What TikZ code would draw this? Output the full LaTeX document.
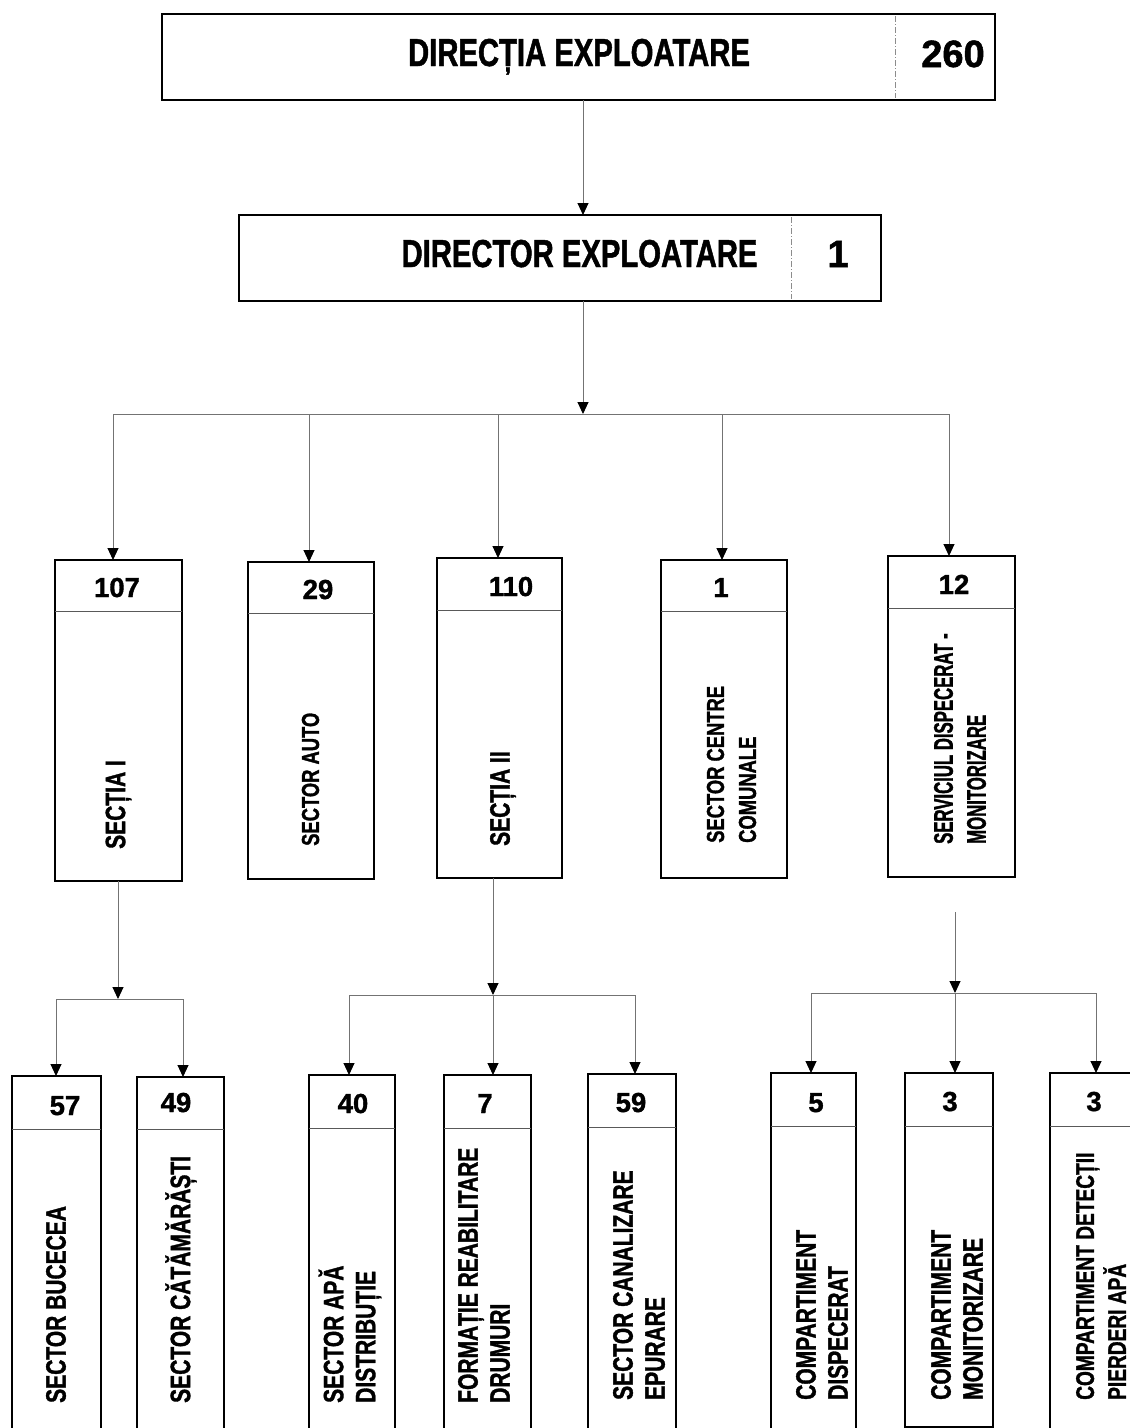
\documentclass[tikz,border=0pt]{standalone}
\usepackage{fontspec}
\setmainfont{Liberation Sans}
\newfontfamily\cond[FakeStretch=0.75,FakeBold=1.2]{Liberation Sans}
\newfontfamily\condn[FakeStretch=0.62,FakeBold=1.2]{Liberation Sans}
\newfontfamily\numf[FakeBold=1.3]{Liberation Sans}
\usetikzlibrary{arrows.meta}
\newcommand\obox[6]{%
  \node[box, minimum width={#4-#2}, minimum height={#6-#3}] (#1) at (#2,#3) {};
  \draw[divl] (#2,#5) -- (#4,#5);
}
\begin{document}
\begin{tikzpicture}[x=1pt,y=-1pt,
  box/.style={draw=black, line width=1.3pt, rectangle, inner sep=0pt, outer sep=0pt, anchor=north west},
  divl/.style={draw=black!65, line width=1pt},
  vdiv/.style={draw=black!45, line width=0.7pt, dash pattern=on 6pt off 2pt on 1pt off 2pt},
  conn/.style={draw=black!55, line width=1pt},
  arr/.style={conn, -{Triangle[width=11pt,length=12pt,color=black,fill=black]}},
  bigt/.style={anchor=base, inner sep=0pt, font=\cond\bfseries\fontsize{39}{47}\selectfont},
  bign/.style={anchor=base, inner sep=0pt, font=\numf\bfseries\fontsize{38}{46}\selectfont},
  num/.style={anchor=base, inner sep=0pt, font=\numf\bfseries\fontsize{27.5}{30}\selectfont},
  rlab/.style={rotate=90, anchor=west, align=left, inner sep=0pt},
  midf/.style={font=\cond\bfseries\fontsize{28}{32}\selectfont},
  smf/.style={font=\cond\bfseries\fontsize{24.5}{32}\selectfont},
  nrf/.style={font=\condn\bfseries\fontsize{27}{33}\selectfont},
  botf/.style={font=\cond\bfseries\fontsize{28}{32}\selectfont},
  detf/.style={font=\cond\bfseries\fontsize{25.5}{32}\selectfont}
]
\path[fill=white, use as bounding box] (0,0) rectangle (1130,1428);
\clip (0,0) rectangle (1130,1428);

% ---------- top boxes ----------
\node[box, minimum width=833, minimum height=86] (dir) at (162,14) {};
\draw[vdiv] (895,16) -- (895,98);
\node[bigt] (dirt) at (579,66) {DIRECȚIA EXPLOATARE};
\node[bign] (dirn) at (953,67) {260};

\node[box, minimum width=642, minimum height=86] (dirr) at (239,215) {};
\draw[vdiv] (791,217) -- (791,299);
\node[bigt] (dirrt) at (579.5,267) {DIRECTOR EXPLOATARE};
\node[bign] (dirrn) at (838,267) {1};

% ---------- middle row ----------
\obox{sec1}{55}{560}{182}{611}{881}
\obox{auto}{248}{562}{374}{613}{879}
\obox{sec2}{437}{558}{562}{610}{878}
\obox{cent}{661}{560}{787}{611}{878}
\obox{serv}{888}{556}{1015}{608}{877}

\node[num] (n107) at (117,597) {107};
\node[num] (n29) at (318,599) {29};
\node[num] (n110) at (511,596) {110};
\node[num] (n1) at (721,597) {1};
\node[num] (n12) at (954,594) {12};

\node[rlab, midf] (sec1t) at (118.5,849) {SECȚIA I};
\node[rlab, smf] (autot) at (310.5,846) {SECTOR AUTO};
\node[rlab, midf] (sec2t) at (503,846) {SECȚIA II};
\node[rlab, smf] (centt) at (731.5,843) {SECTOR CENTRE\\COMUNALE};
\node[rlab, nrf] (servt) at (960,844) {SERVICIUL DISPECERAT -\\MONITORIZARE};

% ---------- bottom row ----------
\obox{buc}{12}{1076}{101}{1129}{1445}
\obox{cat}{137}{1077}{224}{1129}{1445}
\obox{apa}{309}{1075}{395}{1128}{1445}
\obox{form}{444}{1075}{531}{1128}{1445}
\obox{can}{588}{1074}{676}{1127}{1445}
\obox{disp}{771}{1073}{856}{1126}{1445}
\obox{mon}{905}{1073}{993}{1126}{1427}
\obox{det}{1050}{1073}{1145}{1126}{1445}

\node[num] (n57) at (65,1115) {57};
\node[num] (n49) at (176,1112) {49};
\node[num] (n40) at (353,1113) {40};
\node[num] (n7) at (485,1113) {7};
\node[num] (n59) at (631,1112) {59};
\node[num] (n5) at (816,1112) {5};
\node[num] (n3a) at (950,1111) {3};
\node[num] (n3b) at (1094,1111) {3};

\node[rlab, botf] (buct) at (56,1403) {SECTOR BUCECEA};
\node[rlab, botf] (catt) at (181,1403) {SECTOR CĂTĂMĂRĂȘTI};
\node[rlab, botf] (apat) at (350,1403) {SECTOR APĂ\\DISTRIBUȚIE};
\node[rlab, botf] (formt) at (484,1403) {FORMAȚIE REABILITARE\\DRUMURI};
\node[rlab, botf] (cant) at (639,1400) {SECTOR CANALIZARE\\EPURARE};
\node[rlab, botf] (dispt) at (822,1400) {COMPARTIMENT\\DISPECERAT};
\node[rlab, botf] (mont) at (957,1400) {COMPARTIMENT\\MONITORIZARE};
\node[rlab, detf] (dett) at (1101,1400) {COMPARTIMENT DETECȚII\\PIERDERI APĂ};

% ---------- connectors ----------
\coordinate (b1) at (583,414);
\draw[arr] (b1 |- dir.south) -- (b1 |- dirr.north);
\draw[arr] (b1 |- dirr.south) -- (b1);

\coordinate (d1) at (113,414);
\coordinate (d2) at (309,414);
\coordinate (d3) at (498,414);
\coordinate (d4) at (722,414);
\coordinate (d5) at (949,414);
\draw[conn] (d1) -- (d5);
\draw[arr] (d1) -- (d1 |- sec1.north);
\draw[arr] (d2) -- (d2 |- auto.north);
\draw[arr] (d3) -- (d3 |- sec2.north);
\draw[arr] (d4) -- (d4 |- cent.north);
\draw[arr] (d5) -- (d5 |- serv.north);

% Sectia I
\coordinate (j2) at (118,999);
\coordinate (e1) at (56,999);
\coordinate (e2) at (183,999);
\draw[arr] (j2 |- sec1.south) -- (j2);
\draw[conn] (e1) -- (e2);
\draw[arr] (e1) -- (e1 |- buc.north);
\draw[arr] (e2) -- (e2 |- cat.north);

% Sectia II
\coordinate (j3) at (493,995);
\coordinate (f1) at (349,995);
\coordinate (f3) at (635,995);
\draw[arr] (j3 |- sec2.south) -- (j3);
\draw[conn] (f1) -- (f3);
\draw[arr] (f1) -- (f1 |- apa.north);
\draw[arr] (j3) -- (j3 |- form.north);
\draw[arr] (f3) -- (f3 |- can.north);

% Serviciu
\coordinate (s4) at (955,912);
\coordinate (j4) at (955,993);
\coordinate (g1) at (811,993);
\coordinate (g3) at (1096,993);
\draw[arr] (s4) -- (j4);
\draw[conn] (g1) -- (g3);
\draw[arr] (g1) -- (g1 |- disp.north);
\draw[arr] (j4) -- (j4 |- mon.north);
\draw[arr] (g3) -- (g3 |- det.north);
\end{tikzpicture}
\end{document}
